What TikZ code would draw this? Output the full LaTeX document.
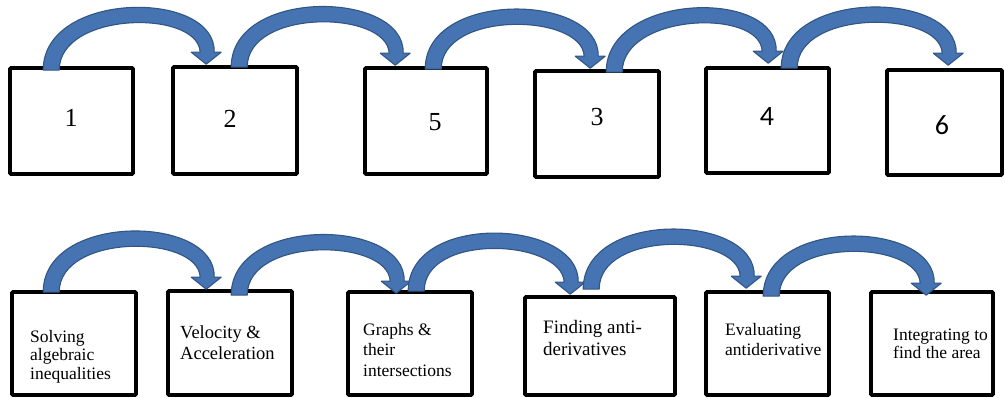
\documentclass[tikz,border=0pt]{standalone}
\usepackage{fontspec}
\setmainfont{Liberation Serif}
\newfontfamily\calfont{Carlito}
\usetikzlibrary{calc}
\definecolor{arrfill}{RGB}{70,115,177}
\definecolor{arrline}{RGB}{50,86,132}
\tikzset{
  box/.style={draw=black, line width=3.6pt, fill=white, inner sep=0pt, rounded corners=1pt},
  digit/.style={inner sep=0pt, font=\fontsize{26}{30}\selectfont},
  cdigit/.style={inner sep=0pt, font=\calfont\fontsize{28}{32}\selectfont},
  txt/.style={inner sep=0pt, anchor=north west, align=left},
  arrowshape/.style={fill=arrfill, draw=arrline, line width=1.1pt, line join=round}
}
\newcommand\bluearrow[2]{%
  \path[arrowshape] (#1) .. controls +(0,-80) and +(2,-63) .. ($(#2)+(8,-12)$)
    -- ($(#2)+(15,-12)$) -- (#2) -- ($(#2)+(-15,-12)$) -- ($(#2)+(-6,-12)$)
    .. controls +(-2,-43) and +(0,-59) .. ($(#1)+(16,0)$) -- cycle;}
\begin{document}
\begin{tikzpicture}[x=1pt,y=-1pt]
\useasboundingbox (0,0) rectangle (1005,398);
\clip (0,0) rectangle (1005,398);
% top row boxes
\node[box, minimum width=123pt, minimum height=106pt] (b1) at (71.5,121) {};
\node[box, minimum width=124pt, minimum height=107pt] (b2) at (235,120.5) {};
\node[box, minimum width=122pt, minimum height=106pt] (b5) at (426,121) {};
\node[box, minimum width=124pt, minimum height=106pt] (b3) at (597,124) {};
\node[box, minimum width=123pt, minimum height=105pt] (b4) at (767.5,120.5) {};
\node[box, minimum width=115pt, minimum height=105pt] (b6) at (944.5,122.5) {};
% top row labels
\node[digit] (l1) at (71,118) {1};
\node[digit] (l2) at (230,118.5) {2};
\node[digit] (l5) at (435,122) {5};
\node[digit] (l3) at (597,117.5) {3};
\node[cdigit] (l4) at (767,117) {4};
\node[cdigit] (l6) at (942,125) {6};
% bottom row boxes
\node[box, minimum width=124pt, minimum height=103pt] (bA) at (74,343.5) {};
\node[box, minimum width=124pt, minimum height=104pt] (bB) at (230,343) {};
\node[box, minimum width=124pt, minimum height=103pt] (bC) at (410,343.5) {};
\node[box, minimum width=150pt, minimum height=98pt] (bD) at (600,346) {};
\node[box, minimum width=123pt, minimum height=103pt] (bE) at (767.5,343.5) {};
\node[box, minimum width=122pt, minimum height=103pt] (bF) at (932,343.5) {};
% bottom row labels
\node[txt, font=\fontsize{17.5}{18.5}\selectfont] (tA) at (30,330) {Solving\\algebraic\\inequalities};
\node[txt, font=\fontsize{18.5}{21}\selectfont] (tB) at (180,325) {Velocity \&\\Acceleration};
\node[txt, font=\fontsize{17.5}{20.5}\selectfont] (tC) at (363,323) {Graphs \&\\their\\intersections};
\node[txt, font=\fontsize{19}{22}\selectfont] (tD) at (543,320) {Finding anti-\\derivatives};
\node[txt, font=\fontsize{17.5}{20}\selectfont] (tE) at (725,323) {Evaluating\\antiderivative};
\node[txt, font=\fontsize{17.5}{18}\selectfont] (tF) at (893,329) {Integrating to\\find the area};
% arrow anchor coordinates
\coordinate (s1) at ($(b1.north west)+(35,4)$);
\coordinate (t1) at ($(b2.north west)+(35,-1)$);
\coordinate (s2) at ($(b2.north west)+(60,2)$);
\coordinate (t2) at ($(b5.north west)+(32,-1)$);
\coordinate (s3) at ($(b5.north west)+(62,3)$);
\coordinate (t3) at ($(b3.north west)+(57,-1)$);
\coordinate (s4) at ($(b3.north west)+(73,3)$);
\coordinate (t4) at ($(b4.north west)+(64,-3)$);
\coordinate (s5) at ($(b4.north west)+(77,2)$);
\coordinate (t5) at ($(b6.north west)+(63,-3)$);
\coordinate (s6) at ($(bA.north west)+(33,2)$);
\coordinate (t6) at ($(bB.north west)+(40,0)$);
\coordinate (s7) at ($(bB.north west)+(65,6)$);
\coordinate (t7) at ($(bC.north west)+(50,3)$);
\coordinate (s8) at ($(bC.north west)+(62,1)$);
\coordinate (t8) at ($(bD.north west)+(47,-1)$);
\coordinate (s9) at ($(bD.north west)+(60,-6)$);
\coordinate (t9) at ($(bE.north west)+(42,-2)$);
\coordinate (s10) at ($(bE.north west)+(59,6)$);
\coordinate (t10) at ($(bF.north west)+(57,5)$);
% arrows
\bluearrow{s1}{t1}
\bluearrow{s2}{t2}
\bluearrow{s3}{t3}
\bluearrow{s4}{t4}
\bluearrow{s5}{t5}
\bluearrow{s6}{t6}
\bluearrow{s7}{t7}
\bluearrow{s8}{t8}
\bluearrow{s9}{t9}
\bluearrow{s10}{t10}
\end{tikzpicture}
\end{document}
